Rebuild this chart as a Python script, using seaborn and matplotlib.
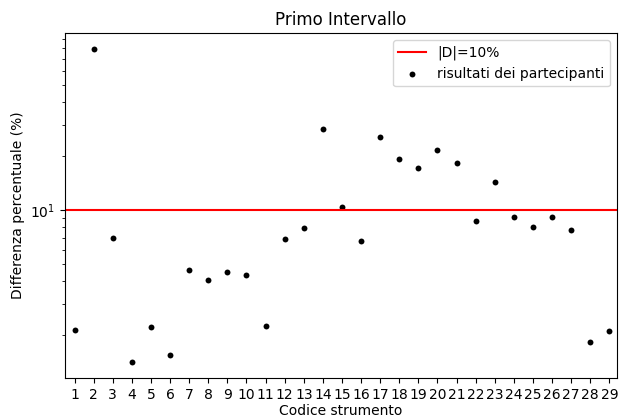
import matplotlib
matplotlib.use("Agg")
import matplotlib.pyplot as plt
import seaborn as sns
import pandas as pd

codici = [1, 2, 3, 4, 5, 6, 7, 8, 9, 10, 11, 12, 13, 14, 15,
          16, 17, 18, 19, 20, 21, 22, 23, 24, 25, 26, 27, 28, 29]
differenze = [2.15, 79.6, 6.95, 1.41, 2.21, 1.54, 4.63, 4.05, 4.53, 4.31,
              2.24, 6.87, 7.97, 28.2, 10.43, 6.72, 25.5, 19.3, 17.1, 21.6,
              18.2, 8.68, 14.3, 9.14, 8.07, 9.14, 7.71, 1.83, 2.12]
soglia = 10
titolo = "Primo Intervallo"
etichetta_x = "Codice strumento"
etichetta_y = "Differenza percentuale (%)"
etichetta_soglia = "|D|=10%"
etichetta_punti = "risultati dei partecipanti"

df = pd.DataFrame({"codice": codici, "diff": differenze})

fig = plt.figure(figsize=(6.19, 4.19), dpi=100)
ax = fig.add_axes([65 / 619, 1 - 378 / 419, (617 - 65) / 619, (378 - 33) / 419])

ax.axhline(soglia, color="red", lw=1.5, label=etichetta_soglia)
sns.scatterplot(data=df, x="codice", y="diff", ax=ax, color="black",
                s=18, linewidth=0, label=etichetta_punti)
ax.set_yscale("log")
ax.set_xticks(codici)
ax.set_xticklabels([str(c) for c in codici])
ax.set_xlim(0.5, 29.4)
ax.set_title(titolo)
ax.set_xlabel(etichetta_x, labelpad=1.5)
ax.set_ylabel(etichetta_y)
ax.legend(loc="upper right")

fig.savefig("out.png", dpi=100)
